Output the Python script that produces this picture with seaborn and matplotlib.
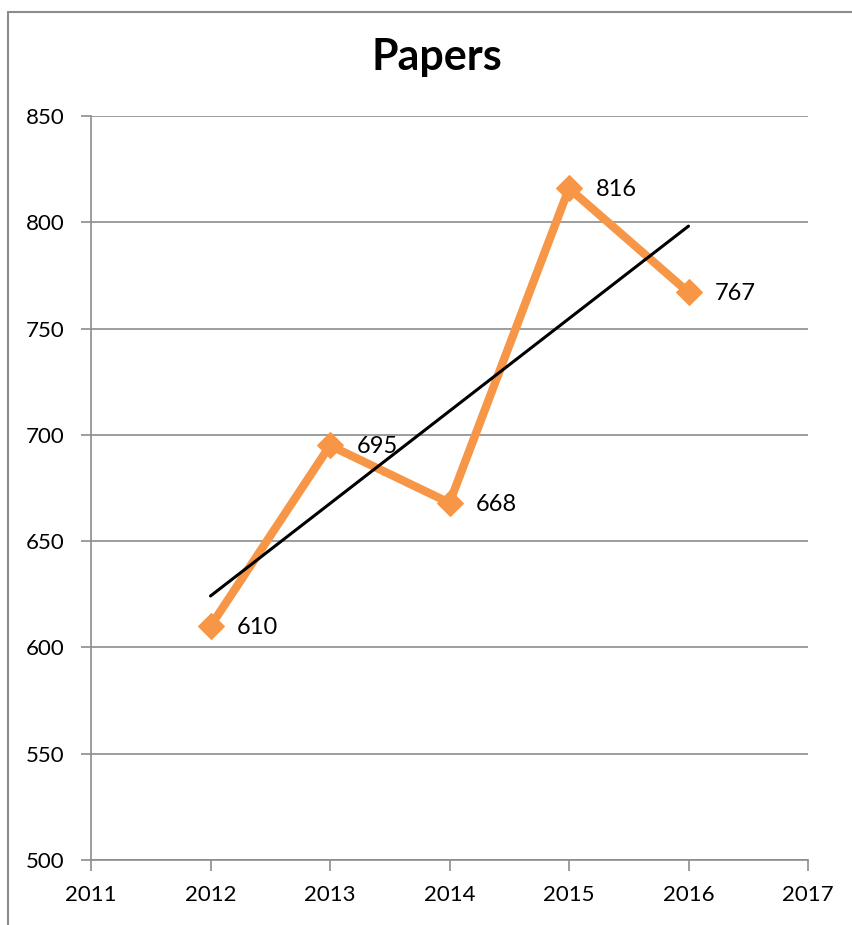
import seaborn as sns
import matplotlib.pyplot as plt
import pandas as pd
from matplotlib.lines import Line2D

years = [2012, 2013, 2014, 2015, 2016]
papers = [610, 695, 668, 816, 767]
x_ticks = [2011, 2012, 2013, 2014, 2015, 2016, 2017]
y_ticks = [500, 550, 600, 650, 700, 750, 800, 850]

df = pd.DataFrame({"Year": years, "Papers": papers})

sns.set_theme(style="white")
plt.rcParams["font.family"] = ["Lato", "DejaVu Sans"]
plt.rcParams["text.color"] = "black"

fig = plt.figure(figsize=(8.53, 9.25), dpi=100)
ax = fig.add_axes([91 / 853, 1 - 860 / 925, (808 - 91) / 853, (860 - 116) / 925])

# horizontal gridlines
ax.yaxis.grid(True, color="#8c8c8c", linewidth=1.2)
ax.set_axisbelow(True)

orange = "#F79646"
sns.lineplot(data=df, x="Year", y="Papers", color=orange, linewidth=6,
             marker="D", markersize=13, markeredgecolor=orange, ax=ax, zorder=3)
sns.regplot(data=df, x="Year", y="Papers", scatter=False, ci=None, truncate=True,
            line_kws={"color": "black", "linewidth": 2.2, "zorder": 4}, ax=ax)

for yr, val in zip(years, papers):
    ax.annotate(str(val), (yr, val), xytext=(19, -1), textcoords="offset points",
                ha="left", va="center", fontsize=17, color="black", zorder=5)

ax.set_xlim(2011, 2017)
ax.set_ylim(500, 850)
ax.set_xticks(x_ticks)
ax.set_yticks(y_ticks)
ax.set_xlabel("")
ax.set_ylabel("")
ax.tick_params(axis="both", labelsize=16, colors="#8c8c8c", labelcolor="black",
               length=8, width=1.2, direction="out")
ax.tick_params(axis="x", bottom=True, pad=10)
ax.tick_params(axis="y", left=True, length=7, pad=12)
for side in ["top", "right"]:
    ax.spines[side].set_visible(False)
for side in ["left", "bottom"]:
    ax.spines[side].set_color("#8c8c8c")
    ax.spines[side].set_linewidth(1.2)

fig.text(437 / 853, 1 - 57 / 925, "Papers", ha="center", va="center",
         fontsize=31, fontweight="bold", color="black")

# outer frame
fig.add_artist(Line2D([8 / 853, 8 / 853], [0, 1 - 12 / 925], transform=fig.transFigure,
                      color="#8c8c8c", linewidth=1.5))
fig.add_artist(Line2D([8 / 853, 1], [1 - 12 / 925, 1 - 12 / 925], transform=fig.transFigure,
                      color="#8c8c8c", linewidth=1.5))

fig.savefig("out.png", dpi=100, facecolor="white")
